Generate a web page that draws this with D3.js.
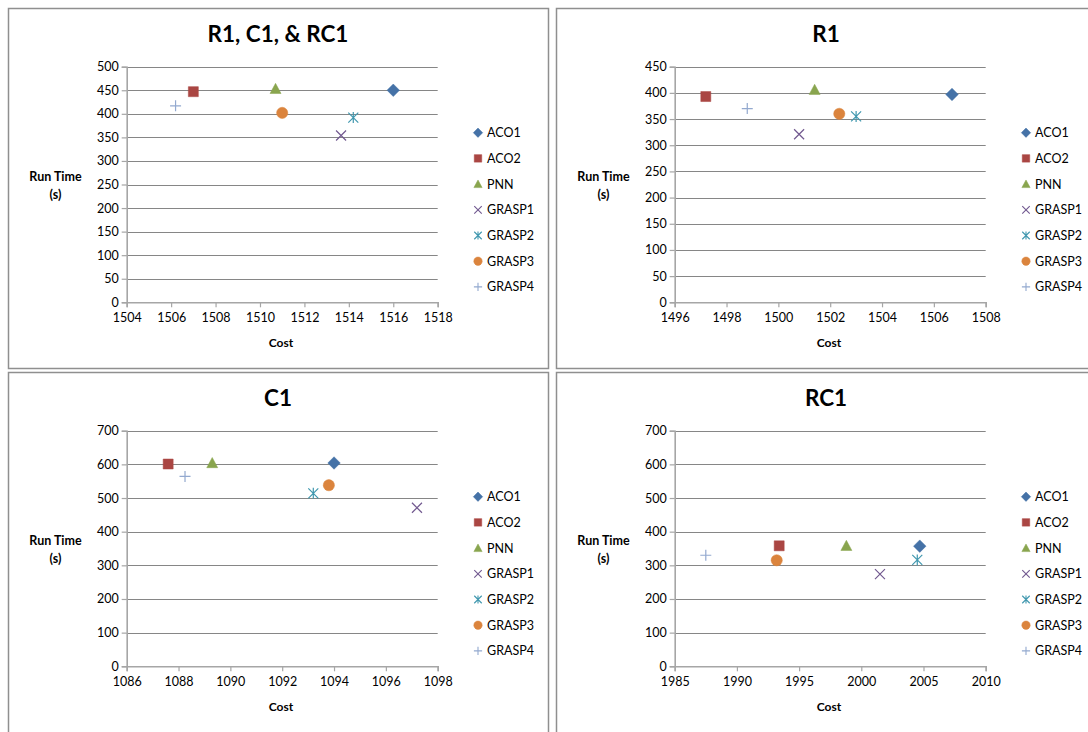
<!DOCTYPE html>
<html>
<head>
<meta charset="utf-8">
<script src="https://cdn.jsdelivr.net/npm/d3@7"></script>
<style>
  html, body { margin: 0; padding: 0; background: #fff; }
  svg { display: block; font-family: Lato, "Open Sans", "Liberation Sans", sans-serif; }
</style>
</head>
<body>
<svg id="chart" width="1088" height="732"></svg>
<script>
// Algorithms compared in every panel
const seriesNames = ["ACO1", "ACO2", "PNN", "GRASP1", "GRASP2", "GRASP3", "GRASP4"];
const seriesColors = ["#4572A7", "#AA4643", "#89A54E", "#71588F", "#4198AF", "#DB843D", "#93A9CF"];

// Cost / run time (s) per algorithm, one pair of arrays per problem set
const allCost = [1516.0, 1507.0, 1510.7, 1513.65, 1514.2, 1511.0, 1506.2];
const allTime = [450, 447, 453, 354, 392, 402, 417];

const r1Cost = [1506.7, 1497.2, 1501.4, 1500.8, 1503.0, 1502.35, 1498.8];
const r1Time = [397, 393, 406, 321, 355, 360, 370];

const c1Cost = [1094.0, 1087.6, 1089.3, 1097.2, 1093.2, 1093.8, 1088.25];
const c1Time = [604, 601, 604, 471, 514, 538, 564];

const rc1Cost = [2004.7, 1993.4, 1998.8, 2001.5, 2004.5, 1993.2, 1987.5];
const rc1Time = [357, 358, 358, 274, 316, 315, 330];

// Axis domains and tick values
const allXTicks = [1504, 1506, 1508, 1510, 1512, 1514, 1516, 1518];
const allYTicks = [0, 50, 100, 150, 200, 250, 300, 350, 400, 450, 500];
const r1XTicks = [1496, 1498, 1500, 1502, 1504, 1506, 1508];
const r1YTicks = [0, 50, 100, 150, 200, 250, 300, 350, 400, 450];
const c1XTicks = [1086, 1088, 1090, 1092, 1094, 1096, 1098];
const c1YTicks = [0, 100, 200, 300, 400, 500, 600, 700];
const rc1XTicks = [1985, 1990, 1995, 2000, 2005, 2010];
const rc1YTicks = [0, 100, 200, 300, 400, 500, 600, 700];

const panels = [
  { title: "R1, C1, & RC1", cost: allCost, time: allTime, xTicks: allXTicks, yTicks: allYTicks, box: [8, 8, 540, 360] },
  { title: "R1", cost: r1Cost, time: r1Time, xTicks: r1XTicks, yTicks: r1YTicks, box: [556, 8, 540, 360] },
  { title: "C1", cost: c1Cost, time: c1Time, xTicks: c1XTicks, yTicks: c1YTicks, box: [8, 372, 540, 370] },
  { title: "RC1", cost: rc1Cost, time: rc1Time, xTicks: rc1XTicks, yTicks: rc1YTicks, box: [556, 372, 540, 370] }
];

// Marker shapes, in the order of seriesNames
const diamond = { draw(ctx, size) { const r = Math.sqrt(size) / 2 * 1.25; ctx.moveTo(0, -r); ctx.lineTo(r, 0); ctx.lineTo(0, r); ctx.lineTo(-r, 0); ctx.closePath(); } };
const square = { draw(ctx, size) { const r = Math.sqrt(size) / 2; ctx.rect(-r, -r, 2 * r, 2 * r); } };
const triangle = { draw(ctx, size) { const r = Math.sqrt(size) / 2 * 1.1; ctx.moveTo(0, -r); ctx.lineTo(r, r * 0.85); ctx.lineTo(-r, r * 0.85); ctx.closePath(); } };
const cross = { draw(ctx, size) { const r = Math.sqrt(size) / 2; ctx.moveTo(-r, -r); ctx.lineTo(r, r); ctx.moveTo(r, -r); ctx.lineTo(-r, r); } };
const asterisk = { draw(ctx, size) { const r = Math.sqrt(size) / 2; ctx.moveTo(-r, -r); ctx.lineTo(r, r); ctx.moveTo(r, -r); ctx.lineTo(-r, r); ctx.moveTo(0, -r * 1.1); ctx.lineTo(0, r * 1.1); } };
const circle = { draw(ctx, size) { const r = Math.sqrt(size) / 2 * 1.12; ctx.moveTo(r, 0); ctx.arc(0, 0, r, 0, 2 * Math.PI); } };
const plus = { draw(ctx, size) { const r = Math.sqrt(size) / 2 * 1.1; ctx.moveTo(-r, 0); ctx.lineTo(r, 0); ctx.moveTo(0, -r); ctx.lineTo(0, r); } };
const shapes = [diamond, square, triangle, cross, asterisk, circle, plus];
const filled = [true, true, true, false, false, true, false];

const svg = d3.select("#chart");

function drawPanel(p) {
  const [bx, by, bw, bh] = p.box;
  const g = svg.append("g").attr("transform", `translate(${bx},${by})`);

  g.append("rect")
    .attr("x", 0.5).attr("y", 0.5)
    .attr("width", bw).attr("height", bh)
    .attr("fill", "#fff")
    .attr("stroke", "#8f8f8f").attr("stroke-width", 1.5);

  // plot area inside the panel
  const left = 118.7, top = 58.7, width = 311, height = 235.6;

  const x = d3.scaleLinear().domain(d3.extent(p.xTicks)).range([left, left + width]);
  const y = d3.scaleLinear().domain(d3.extent(p.yTicks)).range([top + height, top]);

  g.append("text")
    .attr("x", 270).attr("y", 34)
    .attr("text-anchor", "middle")
    .attr("font-size", 22.5).attr("font-weight", "bold")
    .attr("fill", "#000")
    .text(p.title);

  // horizontal gridlines
  g.append("g")
    .selectAll("line")
    .data(p.yTicks.filter(v => v !== 0))
    .join("line")
    .attr("x1", left).attr("x2", left + width)
    .attr("y1", d => Math.round(y(d)) + 0.5).attr("y2", d => Math.round(y(d)) + 0.5)
    .attr("stroke", "#868686").attr("stroke-width", 1);

  const yAxis = g.append("g")
    .attr("transform", `translate(${left},0)`)
    .call(d3.axisLeft(y).tickValues(p.yTicks).tickSize(5).tickPadding(3).tickFormat(d3.format("d")));
  const xAxis = g.append("g")
    .attr("transform", `translate(0,${top + height})`)
    .call(d3.axisBottom(x).tickValues(p.xTicks).tickSize(5).tickPadding(6).tickFormat(d3.format("d")));

  [yAxis, xAxis].forEach(a => {
    a.select(".domain").attr("stroke", "#a6a6a6").attr("stroke-width", 1.6);
    a.selectAll(".tick line").attr("stroke", "#a6a6a6").attr("stroke-width", 1.2);
    a.selectAll(".tick text").attr("font-size", 12.5).attr("fill", "#000")
      .attr("font-family", "Lato, 'Open Sans', sans-serif");
  });

  // axis titles
  g.append("text")
    .attr("x", 273).attr("y", 339)
    .attr("text-anchor", "middle")
    .attr("font-size", 12).attr("font-weight", "bold")
    .text("Cost");
  const yt = g.append("text")
    .attr("text-anchor", "middle")
    .attr("font-size", 12.5).attr("font-weight", "bold");
  yt.append("tspan").attr("x", 47.5).attr("y", 173).text("Run Time");
  yt.append("tspan").attr("x", 47.5).attr("y", 191).text("(s)");

  // data points
  const pts = seriesNames.map((name, i) => ({ name, i, cost: p.cost[i], time: p.time[i] }));
  g.append("g")
    .selectAll("path")
    .data(pts)
    .join("path")
    .attr("transform", d => `translate(${x(d.cost)},${y(d.time)})`)
    .attr("d", d => d3.symbol().type(shapes[d.i]).size(100)())
    .attr("fill", d => filled[d.i] ? seriesColors[d.i] : "none")
    .attr("stroke", d => seriesColors[d.i])
    .attr("stroke-width", d => filled[d.i] ? 0.5 : 1.2);

  // legend
  const legend = g.append("g")
    .selectAll("g")
    .data(seriesNames)
    .join("g")
    .attr("transform", (d, i) => `translate(470,${124.7 + i * 25.7})`);
  legend.append("path")
    .attr("d", (d, i) => d3.symbol().type(shapes[i]).size(56)())
    .attr("fill", (d, i) => filled[i] ? seriesColors[i] : "none")
    .attr("stroke", (d, i) => seriesColors[i])
    .attr("stroke-width", (d, i) => filled[i] ? 0.5 : 1.1);
  legend.append("text")
    .attr("x", 9).attr("y", 4.5)
    .attr("font-size", 12.5).attr("fill", "#000")
    .text(d => d);
}

panels.forEach(drawPanel);
</script>
</body>
</html>
